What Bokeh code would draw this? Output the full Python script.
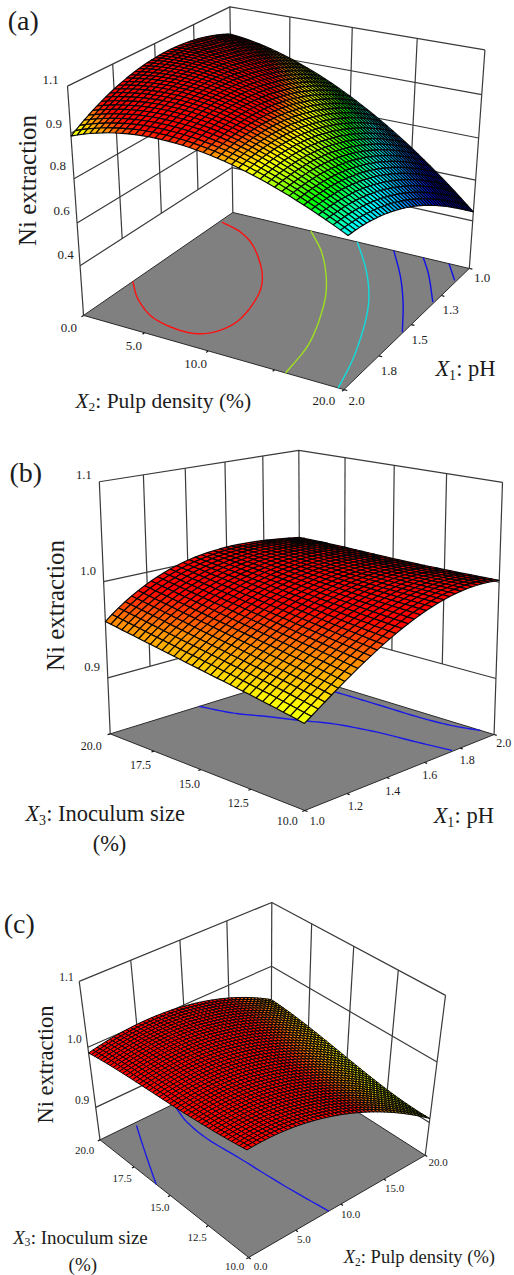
import numpy as np
from bokeh.plotting import figure
from bokeh.models import Range1d, ColumnDataSource
from bokeh.core.properties import value
from bokeh.embed import file_html
from bokeh.resources import INLINE

# ---------- data ----------
# Ni extraction over a 5x5 design grid: rows = second factor, columns = first factor
ZA = [[0.987,0.931,0.818,0.653,0.439],
      [1.038,1.004,0.911,0.764,0.568],
      [1.045,1.039,0.970,0.847,0.676],
      [1.005,1.030,0.990,0.893,0.750],
      [0.914,0.973,0.962,0.894,0.781]]   # cols X2 0..20, rows X1 1..2
ZB = [[0.959,0.993,1.007,1.008,1.002],
      [0.950,0.984,1.002,1.007,1.002],
      [0.941,0.975,0.996,1.004,1.001],
      [0.932,0.966,0.990,1.002,1.001],
      [0.922,0.957,0.985,1.001,1.002]]   # cols X1 1..2, rows X3 20..10
ZC = [[0.991,1.002,0.998,0.979,0.944],
      [0.999,1.007,0.999,0.975,0.936],
      [1.004,1.008,0.995,0.966,0.923],
      [1.010,1.010,0.992,0.958,0.911],
      [1.020,1.016,0.994,0.957,0.907]]   # cols X2 0..20, rows X3 20..10

# floor contours, as fractions of the two axis ranges
CONT_A = [("#ff1010",[(0.0,0.70),(0.102,0.813),(0.239,0.905),(0.407,0.918),(0.477,0.796),(0.446,0.584),(0.370,0.415),(0.231,0.235),(0.120,0.144),(0.011,0.100)]),
          ("#9ee020",[(0.347,0.0),(0.479,0.158),(0.608,0.370),(0.691,0.560),(0.764,0.793),(0.791,1.0)]),
          ("#10dcdc",[(0.545,0.0),(0.668,0.179),(0.774,0.365),(0.853,0.551),(0.933,0.799),(0.980,1.0)]),
          ("#1010e8",[(0.697,0.0),(0.814,0.190),(0.911,0.375),(0.997,0.564)]),
          ("#1010e8",[(0.817,0.0),(0.896,0.126),(0.995,0.311)]),
          ("#1010e8",[(0.920,0.0),(0.993,0.117)])]
CONT_B = [("#1a1ae6",[(0.439,0.0),(0.481,0.153),(0.545,0.270),(0.603,0.391),(0.665,0.505),(0.713,0.680),(0.737,0.852),(0.761,0.994)]),
          ("#1a1ae6",[(0.945,0.25),(0.948,0.42),(0.950,0.677),(0.965,0.825),(0.999,0.938)])]
CONT_C = [("#1a1ae6",[(0.185,0.02),(0.124,0.143),(0.061,0.274),(0.0,0.403)]),
          ("#1a1ae6",[(0.402,0.024),(0.371,0.147),(0.362,0.300),(0.381,0.502),(0.402,0.758),(0.431,1.0)])]

LEVELS_A = [0.4,0.575,0.75,0.925,1.1]; ZLAB_A = ["0.4","0.6","0.8","0.9","1.1"]
LEVELS_B = [0.9,1.0,1.1];              ZLAB_B = ["0.9","1.0","1.1"]
LEVELS_C = [0.9,1.0,1.1];              ZLAB_C = ["0.9","1.0","1.1"]
X2_LAB_A = ["0.0","5.0","10.0","20.0"]
X1_LAB_A = ["2.0","1.8","1.5","1.3","1.0"]
X3_LAB = ["20.0","17.5","15.0","12.5","10.0"]
X1_LAB_B = ["1.0","1.2","1.4","1.6","1.8","2.0"]
X2_LAB_C = ["0.0","5.0","10.0","15.0","20.0"]

# colour of the surface against Ni extraction
C_Z = [0.44,0.62,0.78,0.85,0.905,0.93,0.96,0.985]
C_R = [0,0,0,0,190,255,255,255]
C_G = [0,0,255,255,255,255,140,0]
C_B = [200,255,255,0,0,0,0,0]

# ---------- projection ----------
def fit_camera(pts,off):
    A=[]
    for (X,Y,Z),(x,y) in pts:
        x=x/3; y=y/3+off
        A.append([X,Y,Z,1,0,0,0,0,-x*X,-x*Y,-x*Z,-x])
        A.append([0,0,0,0,X,Y,Z,1,-y*X,-y*Y,-y*Z,-y])
    P=np.linalg.svd(np.array(A,float))[2][-1].reshape(3,4)
    if (P@np.array([.5,.5,.9,1]))[2]<0: P=-P
    return P
def proj(P,u,v,z):
    u,v,z=np.broadcast_arrays(np.asarray(u,float),np.asarray(v,float),np.asarray(z,float))
    h=P@np.stack([u.ravel(),v.ravel(),z.ravel(),np.ones(u.size)])
    return (h[0]/h[2]).reshape(u.shape),(h[1]/h[2]).reshape(u.shape),h[2].reshape(u.shape)
def spline(a):
    # rendering only: rounds a contour through its read points
    a=np.vstack([2*a[0]-a[1],a,2*a[-1]-a[-2]])
    out=[]
    for i in range(1,len(a)-2):
        for t in np.linspace(0,1,8,endpoint=False):
            out.append(.5*((2*a[i])+(a[i+1]-a[i-1])*t+(2*a[i-1]-5*a[i]+4*a[i+1]-a[i+2])*t*t+(3*a[i]-a[i-1]-3*a[i+1]+a[i+2])*t**3))
    out.append(a[-2])
    return np.clip(np.array(out),0,1)

CAL_A=[((0,0,1.1),(688,17)),((0,1,1.1),(200,265)),((1,0,1.1),(1455,150)),
 ((0,0,.19),(697,640)),((0,1,.19),(250,950)),((1,1,.19),(1030,1170)),((1,0,.19),(1405,800)),
 ((0,1,.925),(210,398)),((0,1,.75),(220,530)),((0,1,.575),(230,660)),((0,1,.4),(240,792))]
CAL_B=[((0,0,1.1),(295,160)),((1,0,1.1),(895,58)),((1,1,1.1),(1507,155)),
 ((0,0,.84),(328,912)),((1,0,.84),(900,738)),((1,1,.84),(1478,910)),((0,1,.84),(915,1143)),
 ((0,0,1.0),(310,450)),((0,0,.9),(322,735))]
CAL_C=[((0,0,1.1),(235,370)),((1,0,1.1),(813,130)),((1,1,1.1),(1337,405)),
 ((0,0,.842),(298,843)),((1,0,.842),(813,595)),((1,1,.842),(1272,883)),((0,1,.842),(745,1192)),
 ((0,0,1.0),(262,553)),((0,0,.9),(287,735)),((1,0,1.0),(813,310)),((1,0,.9),(813,490))]

p=figure(width=514,height=1275,x_range=Range1d(0,514),y_range=Range1d(1275,0),
         x_axis_location=None,y_axis_location=None,toolbar_location=None,
         output_backend="svg",min_border=0,outline_line_color=None,
         background_fill_color="white",border_fill_color="white",margin=0)
p.grid.visible=False
FONT=value("Liberation Serif")
INK="#1c1c1c"; WALL="#3a3a3a"

def txt(x,y,s,size,style="normal",align="center",angle=0):
    p.text([x],[y],text=[s],text_font=FONT,text_font_size=f"{size}px",text_font_style=style,
           text_align=align,text_baseline="middle",text_color=INK,angle=angle)

def xlabel(x0,y,sub,rest,size):
    txt(x0,y,"X",size,"italic","left")
    txt(x0+.60*size,y+.28*size,sub,.62*size,"normal","left")
    txt(x0+.60*size+.32*size,y,rest,size,"normal","left")

def panel(cal,off,table,levels,zfloor,left,back,right,nl,nr,cells,conts,ticks,lw):
    P=fit_camera(cal,off)
    ztop,zlow=levels[-1],levels[0]
    left,back,right=[np.array(c,float) for c in (left,back,right)]
    xs=[];ys=[]
    for z in levels:
        x,y,_=proj(P,[left[0],back[0],right[0]],[left[1],back[1],right[1]],z)
        xs.append(list(x)); ys.append(list(y))
    for k in range(nl+1):
        c=left+(back-left)*k/nl
        zb=zfloor if k in (0,nl) else zlow
        x,y,_=proj(P,c[0],c[1],np.array([ztop,zb]))
        xs.append(list(x)); ys.append(list(y))
    for k in range(1,nr+1):
        c=back+(right-back)*k/nr
        zb=zfloor if k==nr else zlow
        x,y,_=proj(P,c[0],c[1],np.array([ztop,zb]))
        xs.append(list(x)); ys.append(list(y))
    p.multi_line(xs,ys,line_color=WALL,line_width=1.2)
    # floor
    x,y,_=proj(P,np.array([0,1,1,0.]),np.array([0,0,1,1.]),zfloor)
    p.patch(list(x),list(y),fill_color="#808080",line_color="#2a2a2a",line_width=1)
    # ticks on the floor edges
    xs=[];ys=[]
    for (u0,v0,u1,v1,du,dv,n) in ticks:
        for k in range(n+1):
            u=u0+(u1-u0)*k/n; v=v0+(v1-v0)*k/n
            x,y,_=proj(P,np.array([u,u+du]),np.array([v,v+dv]),zfloor)
            xs.append(list(x)); ys.append(list(y))
    p.multi_line(xs,ys,line_color="#111111",line_width=1.2)
    # contours
    for col,pts in conts:
        a=spline(np.array(pts))
        x,y,_=proj(P,a[:,0],a[:,1],zfloor)
        p.line(list(x),list(y),line_color=col,line_width=1.4,line_join="round")
    # surface
    T=np.array(table)
    nodes=np.linspace(0,1,T.shape[0])
    g=np.linspace(0,1,cells+1)
    L=np.vander(g,5)@np.linalg.inv(np.vander(nodes,5))
    Z=L@T@L.T
    U,V=np.meshgrid(g,g)
    X,Y,W=proj(P,U,V,Z)
    quads=[]
    for i in range(cells):
        for j in range(cells):
            zc=Z[i:i+2,j:j+2].mean()
            col="#%02x%02x%02x"%tuple(int(np.interp(zc,C_Z,ch)) for ch in (C_R,C_G,C_B))
            qx=[X[i,j],X[i,j+1],X[i+1,j+1],X[i+1,j]]
            qy=[Y[i,j],Y[i,j+1],Y[i+1,j+1],Y[i+1,j]]
            quads.append((W[i:i+2,j:j+2].mean(),qx,qy,col))
    quads.sort(key=lambda q:-q[0])
    src=ColumnDataSource(dict(xs=[q[1] for q in quads],ys=[q[2] for q in quads],c=[q[3] for q in quads]))
    p.patches("xs","ys",source=src,fill_color="c",line_color="#050505",line_width=lw)

# panel (a)
panel(CAL_A,0,ZA,LEVELS_A,.19,(0,1),(0,0),(1,0),4,4,40,CONT_A,
      [(0,1,1,1,0,.012,4),(1,0,1,1,.012,0,4)],1.15)
for s,(x,y) in zip(ZLAB_A,[(195,762),(183,630),(172,497),(160,370),(150,238)]): txt(x/3,y/3,s,13)
for s,(x,y) in zip(X2_LAB_A,[(205,983),(400,1037),(585,1090),(970,1200)]): txt(x/3,y/3,s,13)
for s,(x,y) in zip(X1_LAB_A,[(1068,1200),(1165,1112),(1257,1017),(1350,927),(1445,832)]): txt(x/3,y/3,s,13)
txt(82/3,540/3,"Ni extraction",25,angle=np.pi/2)
txt(68/3,60/3,"(a)",28)
xlabel(225/3,1202/3,"2",": Pulp density (%)",21.5)
xlabel(1305/3,1105/3,"1",": pH",22.5)

# panel (b)
O=430
panel(CAL_B,O,ZB,LEVELS_B,.84,(0,0),(1,0),(1,1),5,4,32,CONT_B,
      [(0,0,0,1,-.012,0,4),(0,1,1,1,0,.012,5)],1.15)
for s,(x,y) in zip(ZLAB_B,[(275,708),(263,422),(250,133)]): txt(x/3,y/3+O,s,12.5)
for s,(x,y) in zip(X3_LAB,[(272,945),(420,1003),(567,1060),(713,1118),(860,1172)]): txt(x/3,y/3+O,s,12)
for s,(x,y) in zip(X1_LAB_B,[(950,1172),(1065,1125),(1177,1080),(1288,1032),(1400,987),(1510,938)]): txt(x/3,y/3+O,s,12)
txt(165/3,525/3+O,"Ni extraction",25,angle=np.pi/2)
txt(76/3,125/3+O,"(b)",28)
xlabel(75/3,1150/3+O,"3",": Inoculum size",22.5)
txt(327/3,1240/3+O,"(%)",22.5)
xlabel(1300/3,1155/3+O,"1",": pH",22.5)

# panel (c)
O=860
panel(CAL_C,O,ZC,LEVELS_C,.842,(0,0),(1,0),(1,1),4,4,46,CONT_C,
      [(0,0,0,1,-.012,0,4),(0,1,1,1,0,.012,4)],1.0)
for s,(x,y) in zip(ZLAB_C,[(245,718),(222,535),(198,350)]): txt(x/3,y/3+O,s,11.5)
for s,(x,y) in zip(X3_LAB,[(252,870),(365,955),(478,1040),(590,1130),(702,1217)]): txt(x/3,y/3+O,s,11)
for s,(x,y) in zip(X2_LAB_C,[(780,1217),(910,1138),(1050,1062),(1182,985),(1313,907)]): txt(x/3,y/3+O,s,11)
txt(135/3,612/3+O,"Ni extraction",22.5,angle=np.pi/2)
txt(56/3,190/3+O,"(c)",28)
xlabel(38/3,1130/3+O,"3",": Inoculum size",19)
txt(247/3,1212/3+O,"(%)",19)
xlabel(1030/3,1190/3+O,"2",": Pulp density (%)",18.5)

open("out.html","w").write(file_html(p,INLINE))
